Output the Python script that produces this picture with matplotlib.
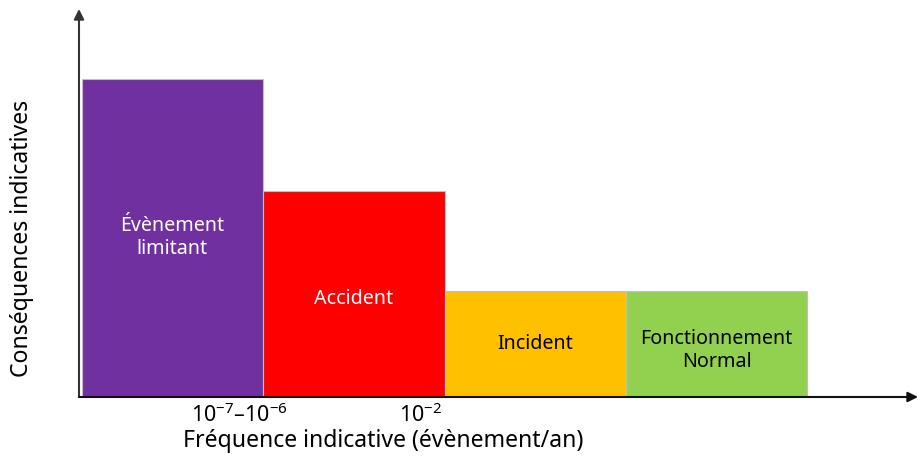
import matplotlib
matplotlib.use("Agg")
import matplotlib.pyplot as plt

plt.rcParams['font.family'] = ['Noto Sans', 'DejaVu Sans']
plt.rcParams['mathtext.fontset'] = 'custom'
plt.rcParams['mathtext.rm'] = 'Noto Sans'
plt.rcParams['mathtext.it'] = 'Noto Sans'

categories = ["Évènement\nlimitant", "Accident", "Incident", "Fonctionnement\nNormal"]
consequences = [3.0, 1.94, 1.0, 1.0]
colors = ["#7030A0", "#FF0000", "#FFC000", "#92D050"]
text_colors = ["white", "white", "black", "black"]
label_y = [1.51, 0.93, 0.51, 0.45]
tick_pos = [0.87, 1.87]
tick_labels = ["10$^{-7}$–10$^{-6}$", "10$^{-2}$"]

W, H = 918, 464
fig = plt.figure(figsize=(W/100, H/100), dpi=100)
ax = fig.add_axes([79/W, (H-398)/H, (W-79)/W, (398-10)/H])

unit = 181.5
x0 = 2.5/unit
ax.set_xlim(0, (W-79)/unit)
ax.set_ylim(0, (398-10)/106.0)

xs = [x0 + i for i in range(len(categories))]
ax.bar(xs, consequences, width=1.0, align='edge', color=colors,
       edgecolor="#c0c0c0", linewidth=0.8, zorder=2)
for x, v, lab, tc, ly in zip(xs, consequences, categories, text_colors, label_y):
    ax.text(x + 0.5, ly, lab, ha='center', va='center', color=tc,
            fontsize=14.2, linespacing=1.2, zorder=3)

for s in ax.spines.values():
    s.set_visible(False)
ax.set_xticks([])
ax.set_yticks([])

# axes arrows
ax.annotate("", xy=(0, 1.0), xytext=(0, 0), xycoords='axes fraction',
            arrowprops=dict(arrowstyle="-|>,head_length=0.6,head_width=0.3",
                            color="#333333", lw=1.5, shrinkA=0, shrinkB=0), annotation_clip=False)
ax.annotate("", xy=(1.0, 0), xytext=(0, 0), xycoords='axes fraction',
            arrowprops=dict(arrowstyle="-|>,head_length=0.6,head_width=0.3",
                            color="#111111", lw=1.5, shrinkA=0, shrinkB=0), annotation_clip=False)

for p, t in zip(tick_pos, tick_labels):
    ax.text(x0 + p, -0.055, t, ha='center', va='top', fontsize=15.5)

fig.text(383/W, 1 - 441/H, "Fréquence indicative (évènement/an)", ha='center', va='center', fontsize=16.6)
fig.text(22/W, 1 - 238/H, "Conséquences indicatives", ha='center', va='center',
         rotation=90, fontsize=16.6)

fig.savefig("out.png", dpi=100)
